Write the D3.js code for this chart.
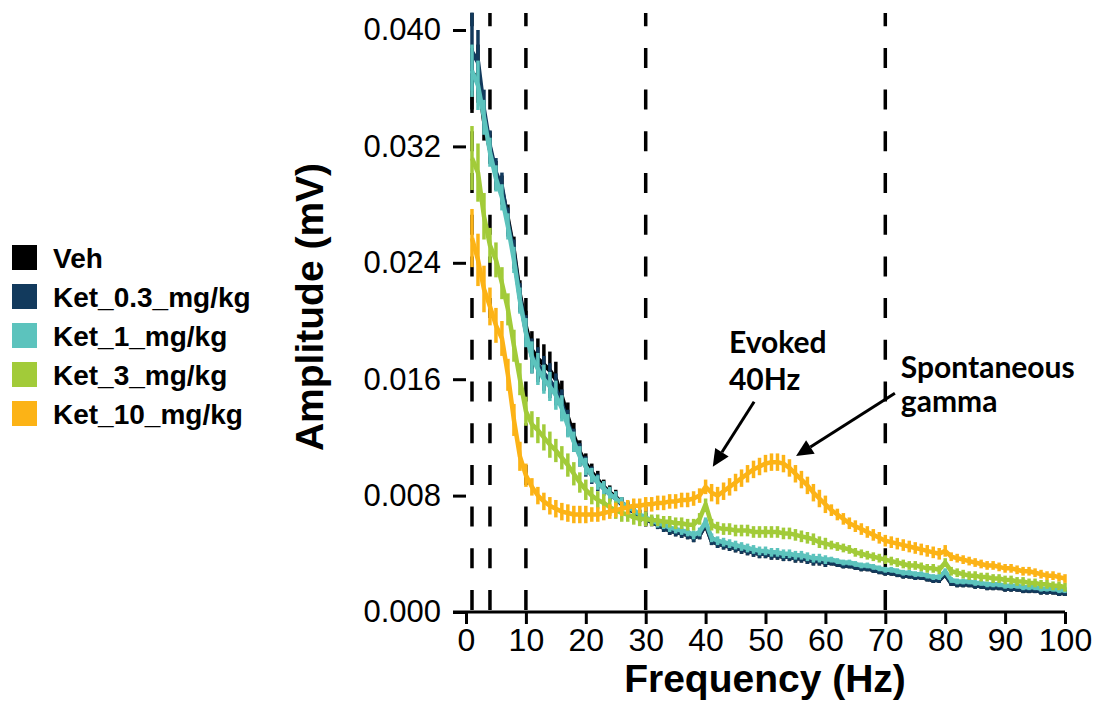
<!DOCTYPE html>
<html>
<head>
<meta charset="utf-8">
<script src="https://cdn.jsdelivr.net/npm/d3@7"></script>
<style>
  body { margin: 0; background: #fff; }
  svg { display: block; }
</style>
</head>
<body>
<svg id="chart" width="1096" height="705"></svg>
<script>
// ---------------- DATA ----------------
const freqs = d3.range(1, 101); // 1..100 Hz bins
const seriesNames = ["Veh", "Ket_0.3_mg/kg", "Ket_1_mg/kg", "Ket_3_mg/kg", "Ket_10_mg/kg"];
const seriesColors = ["#000000", "#123a5d", "#5cc3bd", "#a2cb39", "#fcb316"];
const bandLines = [1, 4, 10, 30, 70];
const xTicks = [0, 10, 20, 30, 40, 50, 60, 70, 80, 90, 100];
const yTicks = [0, 0.008, 0.016, 0.024, 0.032, 0.040];

const veh = [
  0.0365,0.0370,0.0338,0.0318,0.0300,0.0290,0.0270,0.0248,0.0218,0.0196,
  0.0180,0.0174,0.0170,0.0166,0.0160,0.0148,0.0134,0.0121,0.0110,0.0102,
  0.0096,0.0091,0.0086,0.0082,0.0079,0.0075,0.0072,0.0069,0.0066,0.0064,
  0.0062,0.0060,0.0058,0.0056,0.0055,0.0054,0.0053,0.0051,0.0053,0.0060,
  0.0049,0.0047,0.0046,0.0045,0.0044,0.0043,0.0042,0.0041,0.0040,0.0040,
  0.0039,0.0039,0.0038,0.0038,0.0037,0.0037,0.0036,0.0035,0.0035,0.0034,
  0.0034,0.0033,0.0032,0.0032,0.0031,0.0030,0.0030,0.0029,0.0028,0.0027,
  0.0027,0.0026,0.0025,0.0025,0.0024,0.0024,0.0023,0.0022,0.0022,0.0026,
  0.0020,0.0019,0.0019,0.0019,0.0018,0.0018,0.0017,0.0017,0.0017,0.0016,
  0.0016,0.0016,0.0015,0.0015,0.0015,0.0014,0.0014,0.0014,0.0013,0.0013
];
const ket03 = [
  0.0385,0.0378,0.0345,0.0320,0.0302,0.0292,0.0268,0.0246,0.0216,0.0193,
  0.0176,0.0170,0.0164,0.0159,0.0153,0.0143,0.0130,0.0118,0.0108,0.0100,
  0.0094,0.0089,0.0085,0.0081,0.0078,0.0074,0.0071,0.0069,0.0066,0.0064,
  0.0062,0.0060,0.0058,0.0056,0.0055,0.0054,0.0053,0.0051,0.0053,0.0061,
  0.0049,0.0047,0.0046,0.0045,0.0044,0.0043,0.0042,0.0041,0.0040,0.0040,
  0.0039,0.0039,0.0038,0.0038,0.0037,0.0037,0.0036,0.0035,0.0035,0.0034,
  0.0034,0.0033,0.0032,0.0032,0.0031,0.0030,0.0030,0.0029,0.0028,0.0027,
  0.0027,0.0026,0.0025,0.0025,0.0024,0.0024,0.0023,0.0022,0.0022,0.0026,
  0.0020,0.0019,0.0019,0.0019,0.0018,0.0018,0.0017,0.0017,0.0017,0.0016,
  0.0016,0.0016,0.0015,0.0015,0.0015,0.0014,0.0014,0.0014,0.0013,0.0013
];
const ket1 = [
  0.0372,0.0362,0.0340,0.0316,0.0298,0.0285,0.0265,0.0242,0.0214,0.0192,
  0.0175,0.0167,0.0160,0.0155,0.0149,0.0140,0.0128,0.0117,0.0107,0.0100,
  0.0094,0.0089,0.0085,0.0081,0.0078,0.0075,0.0072,0.0070,0.0067,0.0065,
  0.0063,0.0061,0.0060,0.0058,0.0057,0.0056,0.0055,0.0053,0.0055,0.0062,
  0.0051,0.0049,0.0048,0.0047,0.0046,0.0045,0.0044,0.0043,0.0042,0.0042,
  0.0041,0.0041,0.0040,0.0040,0.0039,0.0039,0.0038,0.0037,0.0037,0.0036,
  0.0036,0.0035,0.0034,0.0034,0.0033,0.0032,0.0032,0.0031,0.0030,0.0029,
  0.0029,0.0028,0.0027,0.0027,0.0026,0.0026,0.0025,0.0024,0.0024,0.0028,
  0.0022,0.0021,0.0021,0.0021,0.0020,0.0020,0.0019,0.0019,0.0019,0.0018,
  0.0018,0.0018,0.0017,0.0017,0.0017,0.0016,0.0016,0.0016,0.0015,0.0015
];
const ket3 = [
  0.0312,0.0302,0.0272,0.0252,0.0242,0.0226,0.0208,0.0183,0.0160,0.0138,
  0.0129,0.0125,0.0120,0.0115,0.0111,0.0106,0.0101,0.0095,0.0089,0.0084,
  0.0080,0.0077,0.0075,0.0072,0.0070,0.0068,0.0067,0.0065,0.0064,0.0064,
  0.0063,0.0063,0.0062,0.0062,0.0061,0.0061,0.0060,0.0060,0.0064,0.0074,
  0.0060,0.0058,0.0057,0.0057,0.0056,0.0056,0.0056,0.0055,0.0055,0.0055,
  0.0055,0.0055,0.0054,0.0054,0.0053,0.0052,0.0051,0.0050,0.0048,0.0047,
  0.0046,0.0045,0.0044,0.0043,0.0041,0.0040,0.0039,0.0038,0.0037,0.0036,
  0.0035,0.0034,0.0033,0.0032,0.0032,0.0031,0.0030,0.0030,0.0029,0.0034,
  0.0028,0.0027,0.0026,0.0025,0.0025,0.0024,0.0024,0.0023,0.0023,0.0022,
  0.0022,0.0021,0.0021,0.0020,0.0020,0.0019,0.0019,0.0018,0.0018,0.0017
];
const ket10 = [
  0.0257,0.0242,0.0222,0.0210,0.0197,0.0188,0.0163,0.0132,0.0107,0.0094,
  0.0086,0.0080,0.0076,0.0073,0.0071,0.0069,0.0068,0.0067,0.0067,0.0067,
  0.0067,0.0067,0.0068,0.0069,0.0070,0.0071,0.0072,0.0073,0.0073,0.0074,
  0.0074,0.0075,0.0075,0.0076,0.0076,0.0077,0.0077,0.0078,0.0080,0.0086,
  0.0082,0.0080,0.0083,0.0086,0.0089,0.0092,0.0095,0.0098,0.0100,0.0102,
  0.0103,0.0103,0.0102,0.0099,0.0095,0.0091,0.0087,0.0082,0.0078,0.0074,
  0.0070,0.0067,0.0064,0.0061,0.0059,0.0057,0.0055,0.0053,0.0051,0.0049,
  0.0048,0.0047,0.0046,0.0045,0.0044,0.0043,0.0042,0.0041,0.0040,0.0042,
  0.0038,0.0037,0.0036,0.0035,0.0034,0.0033,0.0032,0.0032,0.0031,0.0030,
  0.0030,0.0029,0.0028,0.0028,0.0027,0.0026,0.0025,0.0025,0.0024,0.0023
];

const semVeh = [
  0.0022,0.0020,0.0014,0.0010,0.0010,0.0010,0.0010,0.0010,0.0010,0.0011,
  0.0013,0.0014,0.0014,0.0013,0.0012,0.0011,0.0010,0.0009,0.0008,0.0007,
  0.0006,0.0006,0.0005,0.0005,0.0005,0.0004,0.0004,0.0004,0.0004,0.0004,
  0.0003,0.0003,0.0003,0.0003,0.0003,0.0003,0.0003,0.0003,0.0003,0.0003,
  0.0003,0.0003,0.0003,0.0003,0.0003,0.0003,0.0003,0.0003,0.0003,0.0003,
  0.0003,0.0003,0.0003,0.0003,0.0003,0.0003,0.0003,0.0003,0.0003,0.0003,
  0.0002,0.0002,0.0002,0.0002,0.0002,0.0002,0.0002,0.0002,0.0002,0.0002,
  0.0002,0.0002,0.0002,0.0002,0.0002,0.0002,0.0002,0.0002,0.0002,0.0002,
  0.0002,0.0002,0.0002,0.0002,0.0002,0.0002,0.0002,0.0002,0.0002,0.0002,
  0.0002,0.0002,0.0002,0.0002,0.0002,0.0002,0.0002,0.0002,0.0002,0.0002
];
const semKet03 = [
  0.0027,0.0022,0.0014,0.0011,0.0010,0.0010,0.0010,0.0010,0.0010,0.0011,
  0.0012,0.0012,0.0012,0.0012,0.0011,0.0010,0.0009,0.0008,0.0008,0.0007,
  0.0006,0.0006,0.0005,0.0005,0.0005,0.0004,0.0004,0.0004,0.0004,0.0004,
  0.0003,0.0003,0.0003,0.0003,0.0003,0.0003,0.0003,0.0003,0.0003,0.0003,
  0.0003,0.0003,0.0003,0.0003,0.0003,0.0003,0.0003,0.0003,0.0003,0.0003,
  0.0003,0.0003,0.0003,0.0003,0.0003,0.0003,0.0003,0.0003,0.0003,0.0003,
  0.0002,0.0002,0.0002,0.0002,0.0002,0.0002,0.0002,0.0002,0.0002,0.0002,
  0.0002,0.0002,0.0002,0.0002,0.0002,0.0002,0.0002,0.0002,0.0002,0.0002,
  0.0002,0.0002,0.0002,0.0002,0.0002,0.0002,0.0002,0.0002,0.0002,0.0002,
  0.0002,0.0002,0.0002,0.0002,0.0002,0.0002,0.0002,0.0002,0.0002,0.0002
];
const semKet1 = [
  0.0018,0.0017,0.0012,0.0010,0.0009,0.0009,0.0009,0.0009,0.0009,0.0010,
  0.0011,0.0011,0.0010,0.0010,0.0010,0.0009,0.0008,0.0007,0.0007,0.0006,
  0.0005,0.0005,0.0005,0.0005,0.0005,0.0004,0.0004,0.0004,0.0004,0.0004,
  0.0003,0.0003,0.0003,0.0003,0.0003,0.0003,0.0003,0.0003,0.0003,0.0003,
  0.0003,0.0003,0.0003,0.0003,0.0003,0.0003,0.0003,0.0003,0.0003,0.0003,
  0.0003,0.0003,0.0003,0.0003,0.0003,0.0003,0.0003,0.0003,0.0003,0.0003,
  0.0002,0.0002,0.0002,0.0002,0.0002,0.0002,0.0002,0.0002,0.0002,0.0002,
  0.0002,0.0002,0.0002,0.0002,0.0002,0.0002,0.0002,0.0002,0.0002,0.0002,
  0.0002,0.0002,0.0002,0.0002,0.0002,0.0002,0.0002,0.0002,0.0002,0.0002,
  0.0002,0.0002,0.0002,0.0002,0.0002,0.0002,0.0002,0.0002,0.0002,0.0002
];
const semKet3 = [
  0.0022,0.0020,0.0016,0.0012,0.0012,0.0011,0.0011,0.0011,0.0011,0.0010,
  0.0009,0.0009,0.0009,0.0009,0.0008,0.0008,0.0008,0.0008,0.0007,0.0007,
  0.0006,0.0006,0.0006,0.0006,0.0006,0.0006,0.0005,0.0005,0.0005,0.0005,
  0.0004,0.0004,0.0004,0.0004,0.0004,0.0004,0.0004,0.0004,0.0004,0.0004,
  0.0004,0.0004,0.0004,0.0004,0.0004,0.0004,0.0004,0.0004,0.0004,0.0004,
  0.0004,0.0004,0.0004,0.0004,0.0004,0.0004,0.0004,0.0004,0.0004,0.0004,
  0.0003,0.0003,0.0003,0.0003,0.0003,0.0003,0.0003,0.0003,0.0003,0.0003,
  0.0003,0.0003,0.0003,0.0003,0.0003,0.0003,0.0003,0.0003,0.0003,0.0003,
  0.0003,0.0003,0.0003,0.0003,0.0003,0.0003,0.0003,0.0003,0.0003,0.0003,
  0.0003,0.0003,0.0003,0.0003,0.0003,0.0003,0.0003,0.0003,0.0003,0.0003
];
const semKet10 = [
  0.0020,0.0018,0.0016,0.0013,0.0012,0.0012,0.0011,0.0011,0.0010,0.0008,
  0.0006,0.0006,0.0006,0.0006,0.0006,0.0006,0.0006,0.0006,0.0006,0.0006,
  0.0005,0.0005,0.0005,0.0005,0.0005,0.0005,0.0005,0.0005,0.0005,0.0005,
  0.0005,0.0005,0.0005,0.0005,0.0005,0.0005,0.0005,0.0005,0.0005,0.0005,
  0.0006,0.0006,0.0006,0.0006,0.0006,0.0006,0.0006,0.0006,0.0006,0.0006,
  0.0006,0.0006,0.0006,0.0006,0.0006,0.0006,0.0006,0.0006,0.0006,0.0006,
  0.0004,0.0004,0.0004,0.0004,0.0004,0.0004,0.0004,0.0004,0.0004,0.0004,
  0.0004,0.0004,0.0004,0.0004,0.0004,0.0004,0.0004,0.0004,0.0004,0.0004,
  0.0003,0.0003,0.0003,0.0003,0.0003,0.0003,0.0003,0.0003,0.0003,0.0003,
  0.0003,0.0003,0.0003,0.0003,0.0003,0.0003,0.0003,0.0003,0.0003,0.0003
];

const means = [veh, ket03, ket1, ket3, ket10];
const sems = [semVeh, semKet03, semKet1, semKet3, semKet10];

// annotations in data coordinates (Hz, mV)
const annotations = [
  { lines: ["Evoked", "40Hz"], tx: 43.9, ty: [0.01778, 0.01526], from: [48.1, 0.01445], to: [41.2, 0.00999] },
  { lines: ["Spontaneous", "gamma"], tx: 72.6, ty: [0.01608, 0.01378], from: [71.6, 0.01503], to: [55.1, 0.01072] }
];

// ---------------- CHART ----------------
const svg = d3.select("#chart");
const x = d3.scaleLinear().domain([0, 100]).range([466, 1065]);
const y = d3.scaleLinear().domain([0, 0.04]).range([612, 30]);
const panelTop = 13;

// dashed band boundaries
svg.append("g").selectAll("line").data(bandLines).join("line")
  .attr("x1", d => x(d)).attr("x2", d => x(d))
  .attr("y1", y(0)).attr("y2", panelTop)
  .attr("stroke", "#000").attr("stroke-width", 3.5)
  .attr("stroke-dasharray", "20 21.7")
  .attr("stroke-dashoffset", 39.7);

// series
const lineGen = d3.line().x(d => x(d.f)).y(d => y(d.m));
seriesNames.forEach((name, i) => {
  const pts = freqs.map((f, j) => ({ f, m: means[i][j], s: sems[i][j] }));
  const g = svg.append("g").attr("class", "series");
  g.selectAll("line").data(pts).join("line")
    .attr("x1", d => x(d.f)).attr("x2", d => x(d.f))
    .attr("y1", d => y(d.m - d.s)).attr("y2", d => y(d.m + d.s))
    .attr("stroke", seriesColors[i]).attr("stroke-width", 3.5);
  g.append("path").datum(pts)
    .attr("d", lineGen)
    .attr("fill", "none")
    .attr("stroke", seriesColors[i])
    .attr("stroke-width", 4.5)
    .attr("stroke-linejoin", "round");
});

// x axis
const xAxis = svg.append("g").attr("transform", `translate(0,${y(0)})`)
  .call(d3.axisBottom(x).tickValues(xTicks).tickSize(12).tickPadding(4).tickFormat(d3.format("d")));
xAxis.select(".domain").remove();
xAxis.selectAll(".tick line").attr("stroke", "#000").attr("stroke-width", 3);
xAxis.selectAll("text").attr("fill", "#000")
  .style("font-family", "'Liberation Sans', Arial, sans-serif").style("font-size", "32px");
svg.append("line").attr("x1", 453).attr("x2", x(100)).attr("y1", y(0)).attr("y2", y(0))
  .attr("stroke", "#000").attr("stroke-width", 3.2);

// y axis (ticks only)
const yAxis = svg.append("g").attr("transform", `translate(${x(0)},0)`)
  .call(d3.axisLeft(y).tickValues(yTicks).tickSize(13).tickPadding(12).tickFormat(d3.format(".3f")));
yAxis.select(".domain").remove();
yAxis.selectAll(".tick line").attr("stroke", "#000").attr("stroke-width", 3);
yAxis.selectAll("text").attr("fill", "#000")
  .style("font-family", "'Liberation Sans', Arial, sans-serif").style("font-size", "31px");

// axis titles
svg.append("text")
  .attr("x", 765).attr("y", 692).attr("text-anchor", "middle")
  .style("font-family", "'Liberation Sans', Arial, sans-serif").style("font-weight", "bold").style("font-size", "39px")
  .text("Frequency (Hz)");
svg.append("text")
  .attr("transform", "translate(323,307) rotate(-90)").attr("text-anchor", "middle")
  .style("font-family", "'Liberation Sans', Arial, sans-serif").style("font-weight", "bold").style("font-size", "39px")
  .text("Amplitude (mV)");

// legend
const legend = svg.append("g").attr("transform", "translate(12,245)");
const items = legend.selectAll("g").data(seriesNames).join("g")
  .attr("transform", (d, i) => `translate(0,${i * 39})`);
items.append("rect").attr("width", 25).attr("height", 25)
  .attr("fill", (d, i) => seriesColors[i]);
items.append("text").attr("x", 41).attr("y", 22.5)
  .style("font-family", "'Liberation Sans', Arial, sans-serif").style("font-weight", "bold").style("font-size", "28px")
  .text(d => d);

// annotations
const ann = svg.append("g");
annotations.forEach(a => {
  a.lines.forEach((t, k) => {
    ann.append("text").attr("x", x(a.tx)).attr("y", y(a.ty[k]))
      .style("font-family", "Lato, 'Open Sans', sans-serif").style("font-weight", "bold").style("font-size", "30px")
      .text(t);
  });
  const x1 = x(a.from[0]), y1 = y(a.from[1]), x2 = x(a.to[0]), y2 = y(a.to[1]);
  const ang = Math.atan2(y2 - y1, x2 - x1);
  const hl = 17, hw = 8;
  const bx = x2 - hl * Math.cos(ang), by = y2 - hl * Math.sin(ang);
  ann.append("line").attr("x1", x1).attr("y1", y1).attr("x2", bx).attr("y2", by)
    .attr("stroke", "#000").attr("stroke-width", 3);
  const px = -Math.sin(ang), py = Math.cos(ang);
  ann.append("polygon")
    .attr("points", [[x2, y2], [bx + hw * px, by + hw * py], [bx - hw * px, by - hw * py]].map(p => p.join(",")).join(" "))
    .attr("fill", "#000");
});
</script>
</body>
</html>
